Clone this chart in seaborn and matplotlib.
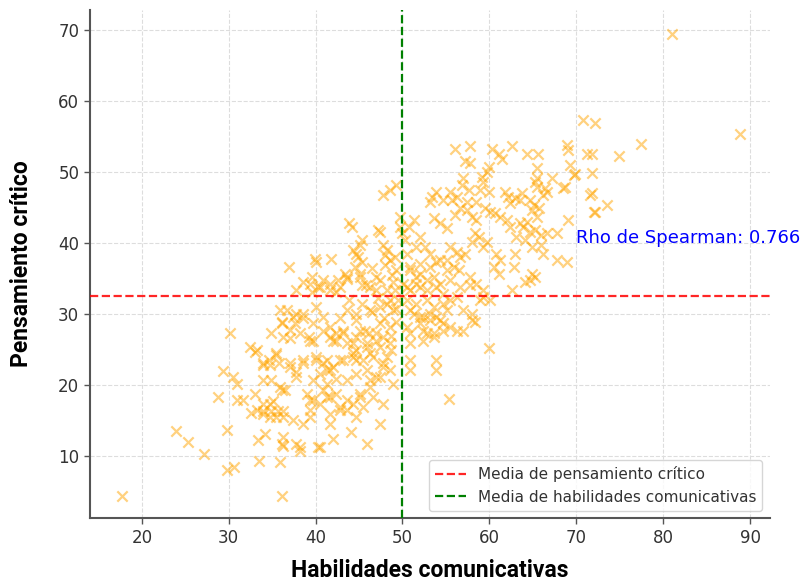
import matplotlib.pyplot as plt
import pandas as pd
import seaborn as sns

# points (habilidades comunicativas, pensamiento critico)
comm_skills = [
    17.7, 23.9, 25.3, 27.1, 29.8, 29.8, 30.6, 28.8, 29.4, 30.2, 30.5, 30.9, 30.9, 31.7, 32.4, 33.0,
    33.0, 32.6, 33.9, 34.0, 34.9, 33.4, 34.2, 33.5, 34.6, 34.9, 34.0, 34.7, 34.0, 34.9, 35.7, 36.3,
    35.1, 35.5, 35.8, 35.9, 36.1, 35.9, 36.1, 36.2, 36.3, 35.9, 36.1,
    49.3, 48.6, 47.8, 43.8, 44.2, 47.2, 47.4, 45.3, 45.1, 44.3, 44.7, 44.9, 47.8, 48.2, 48.0, 48.6,
    39.9, 40.1, 41.8, 36.9, 39.6, 40.9, 42.6, 43.4, 43.6, 44.5, 45.1, 47.0, 47.4, 49.1, 49.3, 48.9,
    40.3, 39.6, 41.7, 42.4, 42.8, 45.3, 46.3, 47.0, 48.2, 49.7, 49.7, 49.9, 50.3,
    56.1, 57.8, 57.2, 57.8, 60.3, 61.1, 61.4, 62.6, 64.3, 65.6, 68.9, 69.1, 69.3, 71.2, 71.8, 59.9,
    59.7, 65.5, 65.5, 69.7, 71.8, 71.8, 67.2, 65.3, 65.5, 66.4, 66.6, 68.7, 68.5, 66.2, 59.1, 59.3,
    58.9, 59.9, 57.0, 56.8, 57.6, 53.9, 53.4, 53.2, 54.7, 55.5, 55.7, 56.3, 61.8, 62.2, 62.4, 63.0,
    63.7, 63.5, 64.7, 65.1, 64.9, 65.7, 65.5, 71.6, 72.0, 69.1, 57.4, 58.5, 59.5, 60.1, 60.7, 56.6,
    57.4, 56.1, 58.0, 58.5, 51.3, 50.7, 53.6, 54.3, 55.1, 61.2, 62.0, 62.4, 63.5, 64.3, 63.9, 64.7,
    65.3, 65.9, 66.6, 67.8, 63.1, 64.1, 64.9, 65.9, 66.2, 52.0, 52.6, 53.2, 51.6, 53.9, 55.1, 55.5,
    56.3, 56.6, 57.2, 55.9, 56.5, 58.4, 58.8, 58.0, 59.3, 59.7, 60.8, 61.2, 60.5, 61.1, 63.0, 62.8,
    67.8, 68.9, 64.9, 65.3, 64.7, 50.5, 50.9, 51.5, 52.0, 52.8, 53.6, 54.3, 55.5, 56.6, 57.8, 58.5,
    59.3, 50.1, 50.9, 52.0,
    36.7, 37.8, 38.6, 37.6, 37.0, 36.3, 40.1, 40.9, 39.7, 39.2, 39.7, 41.7, 42.4, 43.2, 42.0, 43.6,
    44.7, 45.1, 46.1, 45.9, 43.6, 44.7, 46.3, 47.4, 48.2, 48.9, 47.4, 48.6, 47.0, 41.3, 40.9, 41.7,
    40.1, 42.8, 44.3, 44.7, 46.3, 47.4, 48.2, 48.6, 47.8, 37.0, 38.6, 37.8, 36.5, 39.7, 40.5, 41.3,
    42.4, 43.6, 44.7, 45.9, 46.3, 47.4, 48.9, 39.0, 39.7, 41.3, 42.4, 43.6, 45.1, 46.6, 47.8, 39.4,
    41.7, 42.8, 44.7, 45.5,
    50.5, 51.6, 52.8, 53.6, 54.7, 55.5, 56.3, 51.3, 52.4, 53.2, 52.0, 53.9, 54.7, 55.5, 56.3, 57.0,
    58.0, 50.9, 52.8, 50.9, 52.4, 53.6, 50.9, 50.9, 53.9, 53.8, 55.3, 59.9,
    81.0, 88.9, 70.8, 72.2, 77.4, 74.9, 69.9, 73.5, 72.2,
    38.6, 39.4, 37.8, 40.5, 41.7, 43.6, 45.1, 36.1, 37.4, 38.6, 37.0, 38.2, 39.4, 40.9, 41.7, 42.4,
    43.2, 44.3, 44.7, 45.9, 47.0, 47.8, 48.6, 33.2, 34.0, 35.5, 34.7, 37.0, 37.8, 38.6, 40.1, 41.3,
    42.0, 43.2, 44.3, 45.5, 46.6, 47.8, 48.7, 47.4, 45.9, 44.1, 42.0, 40.5, 39.4, 38.6, 37.4, 36.3,
    35.5, 34.7, 33.9, 33.2, 41.7, 42.8, 43.6, 44.3, 45.1, 46.3, 47.0, 37.8, 38.2, 38.2, 36.1, 40.3,
    39.4, 40.5, 40.9, 41.7,
    58.0, 59.3, 58.9,
    50.9, 52.0, 53.2, 54.3, 55.1, 50.5, 51.6, 52.8, 53.9, 54.7, 50.9, 52.0, 53.2, 54.3, 55.1, 50.5,
    52.4, 53.6, 54.7, 45.3, 46.5, 48.0, 48.8, 45.8, 47.2, 48.6, 49.1, 45.3, 43.9, 46.5, 47.9, 49.3,
    44.7, 42.8, 45.7, 48.7, 49.5, 49.3, 57.8, 60.1, 62.6, 64.1, 58.4, 57.0,
]
crit_thinking = [
    4.4, 13.6, 12.0, 10.4, 13.7, 8.1, 8.5, 18.4, 22.0, 27.3, 21.2, 20.2, 17.9, 17.9, 25.4, 24.7,
    18.8, 16.1, 22.8, 20.7, 20.7, 12.3, 13.1, 9.4, 23.5, 27.3, 17.4, 17.4, 16.4, 16.4, 16.4, 16.4,
    17.8, 24.2, 23.1, 19.8, 19.3, 30.6, 28.7, 12.7, 11.5, 9.2, 4.4,
    48.2, 47.5, 46.8, 42.8, 42.3, 41.8, 41.6, 40.4, 39.7, 39.0, 38.5, 38.1, 39.7, 39.0, 38.3, 37.6,
    37.8, 37.4, 37.8, 36.7, 35.3, 34.8, 34.8, 35.7, 35.0, 36.7, 35.7, 35.3, 34.8, 38.1, 36.2, 34.6,
    33.8, 33.1, 33.4, 33.1, 33.8, 34.1, 33.8, 33.4, 33.4, 43.7, 42.3, 41.4, 40.4,
    53.3, 53.7, 51.5, 51.2, 53.3, 52.6, 51.9, 53.6, 52.6, 52.6, 53.8, 53.1, 51.0, 52.6, 52.6, 50.7,
    50.0, 50.5, 49.1, 49.6, 49.8, 47.0, 49.1, 48.6, 47.9, 47.7, 47.2, 47.9, 47.7, 46.8, 49.3, 48.6,
    47.5, 47.2, 49.1, 48.2, 47.5, 47.2, 46.5, 45.8, 46.1, 47.2, 46.1, 46.5, 47.2, 46.5, 45.6, 46.3,
    47.0, 46.1, 46.1, 45.4, 44.6, 44.9, 43.7, 46.8, 44.4, 43.2, 45.8, 45.8, 44.9, 44.4, 44.2, 44.9,
    44.6, 43.9, 43.7, 43.2, 43.2, 42.3, 43.5, 42.8, 42.1, 43.7, 43.2, 42.3, 42.8, 43.0, 42.3, 41.6,
    41.8, 41.1, 41.4, 41.4, 40.9, 40.4, 39.5, 39.7, 38.5, 40.9, 39.5, 38.5, 39.5, 37.4, 37.6, 39.5,
    38.8, 38.1, 38.5, 36.7, 36.2, 41.4, 40.9, 40.2, 39.5, 40.2, 38.5, 37.6, 36.7, 35.7, 38.5, 36.7,
    37.6, 37.4, 35.7, 35.3, 34.8, 38.5, 36.7, 35.3, 35.7, 34.8, 35.3, 34.3, 34.8, 33.8, 35.3, 34.3,
    33.4, 34.3, 33.4, 33.8,
    30.6, 30.1, 29.4, 28.7, 27.8, 26.8, 31.0, 29.6, 28.7, 26.8, 26.3, 28.2, 27.3, 27.7, 26.3, 25.9,
    26.8, 27.7, 27.3, 25.9, 30.6, 30.1, 30.6, 31.0, 31.5, 30.6, 28.7, 28.2, 27.3, 23.5, 23.1, 22.1,
    24.0, 23.5, 24.5, 23.5, 24.5, 25.4, 24.0, 22.1, 22.6, 23.1, 23.5, 21.2, 19.3, 20.7, 21.6, 20.2,
    20.9, 20.7, 21.6, 22.1, 20.7, 21.2, 20.2, 18.8, 17.9, 18.4, 18.8, 17.9, 18.8, 18.4, 17.4, 16.5,
    16.0, 16.5, 15.5, 16.9,
    32.0, 31.5, 32.0, 31.0, 31.5, 32.0, 32.4, 30.1, 29.6, 29.2, 28.7, 29.6, 28.7, 28.2, 27.7, 27.7,
    30.1, 27.3, 27.3, 25.9, 26.3, 26.8, 23.5, 22.1, 23.5, 22.1, 18.1, 25.2,
    69.4, 55.4, 57.3, 56.9, 54.0, 52.3, 49.7, 45.4, 44.4,
    34.6, 34.3, 33.4, 33.8, 34.3, 35.3, 35.3, 28.9, 29.6, 30.1, 26.6, 27.3, 26.3, 27.7, 26.8, 26.3,
    27.3, 25.9, 24.9, 25.4, 26.3, 26.8, 25.9, 24.9, 23.1, 24.5, 22.8, 22.6, 21.9, 23.1, 23.5, 22.1,
    22.6, 23.5, 24.0, 23.5, 24.0, 23.1, 24.9, 14.6, 11.8, 13.4, 12.5, 11.3, 15.5, 14.6, 15.1, 15.5,
    15.5, 15.5, 16.0, 16.5, 14.6, 16.9, 16.5, 17.4, 18.4, 19.8, 21.2, 11.8, 11.3, 10.8, 11.8, 11.3,
    17.9, 17.4, 19.3, 18.4,
    29.2, 32.4, 32.0,
    36.2, 37.1, 36.7, 37.6, 36.2, 33.8, 34.3, 33.4, 33.8, 32.9, 30.6, 29.6, 30.1, 29.2, 30.6, 28.2,
    27.7, 27.3, 27.7, 37.3, 36.5, 36.9, 35.5, 34.1, 32.3, 32.0, 33.4, 31.5, 32.0, 30.3, 29.4, 28.9,
    29.2, 29.4, 27.7, 27.0, 32.0, 30.8, 34.1, 32.0, 33.4, 34.5, 28.9, 30.6,
]

mean_ct = 32.6
mean_hc = 49.9
rho_label = 'Rho de Spearman: 0.766'

df = pd.DataFrame({'Habilidades comunicativas': comm_skills,
                   'Pensamiento crítico': crit_thinking})

sns.set_style('white')
plt.rcParams['font.family'] = ['DejaVu Sans']

fig, ax = plt.subplots(figsize=(8.08, 5.83), dpi=100)
fig.subplots_adjust(left=0.111, right=0.953, top=0.983, bottom=0.111)

sns.scatterplot(data=df, x='Habilidades comunicativas', y='Pensamiento crítico',
                marker='x', color='orange', alpha=0.5, s=55, linewidth=1.6, ax=ax, zorder=2)

ax.axhline(mean_ct, color='red', linestyle='--', linewidth=1.6, alpha=0.85,
           label='Media de pensamiento crítico', zorder=3)
ax.axvline(mean_hc, color='green', linestyle='--', linewidth=1.6,
           label='Media de habilidades comunicativas', zorder=3)

ax.text(70, 40, rho_label, fontsize=13, color='blue')

ax.set_xlim(14, 92.3)
ax.set_ylim(1.3, 72.8)
ax.set_xticks([20, 30, 40, 50, 60, 70, 80, 90])
ax.set_yticks([10, 20, 30, 40, 50, 60, 70])
ax.grid(True, linestyle='--', color='#dddddd', linewidth=0.8, zorder=0)
ax.set_axisbelow(True)
sns.despine(ax=ax)
for side in ['left', 'bottom']:
    ax.spines[side].set_color('#555555')
    ax.spines[side].set_linewidth(1.5)
ax.tick_params(axis='both', labelsize=12, labelcolor='#333333', color='#555555',
               length=4, width=1, left=True, bottom=True)

ax.set_xlabel('Habilidades comunicativas', fontsize=16.5, fontweight='bold',
              family='Roboto', color='black', labelpad=9)
ax.set_ylabel('Pensamiento crítico', fontsize=16.5, fontweight='bold',
              family='Roboto', color='black', labelpad=18)

leg = ax.legend(loc='lower right', fontsize=11, frameon=True)
for t in leg.get_texts():
    t.set_color('#333333')

plt.savefig('out.png', dpi=100)
